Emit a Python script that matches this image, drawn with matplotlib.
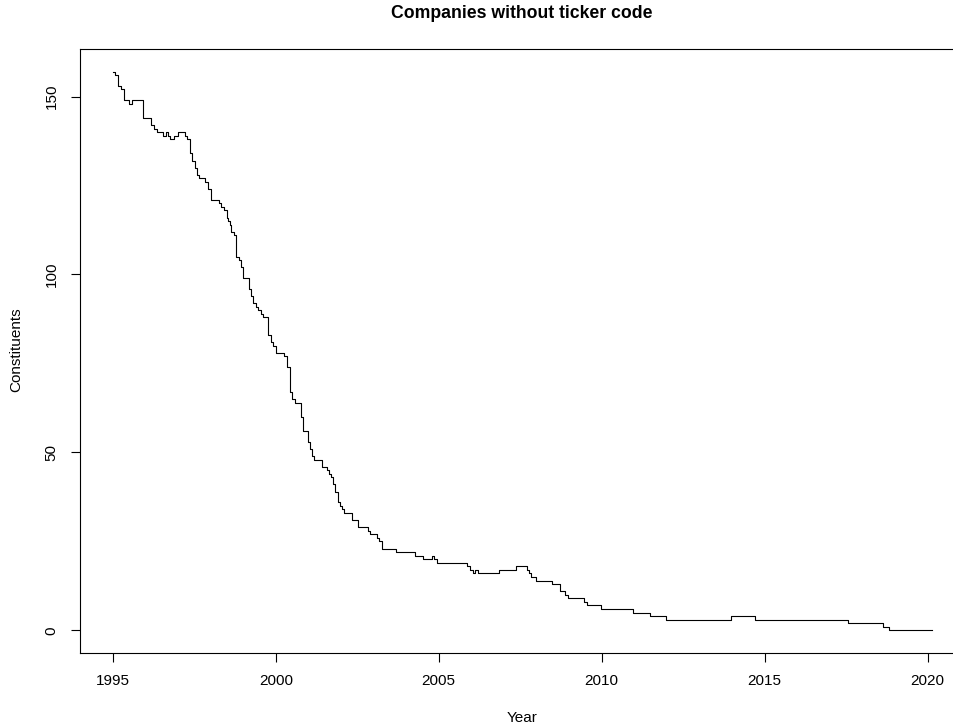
import matplotlib
matplotlib.use('Agg')
import matplotlib.pyplot as plt

# step data (change dates, count after the change)
years = [1995.00, 1995.07, 1995.17, 1995.26, 1995.34, 1995.51, 1995.59, 1995.92,
         1996.18, 1996.26, 1996.36, 1996.54, 1996.62, 1996.69, 1996.77, 1996.88,
         1997.00, 1997.22, 1997.29, 1997.36, 1997.43, 1997.51, 1997.59, 1997.66,
         1997.84, 1997.92, 1998.02, 1998.25, 1998.33, 1998.41, 1998.49, 1998.52,
         1998.59, 1998.64, 1998.72, 1998.79, 1998.86, 1998.93, 1999.00, 1999.17,
         1999.23, 1999.30, 1999.38, 1999.46, 1999.54, 1999.61, 1999.77, 1999.85,
         1999.92, 2000.02, 2000.26, 2000.36, 2000.43, 2000.50, 2000.59, 2000.77,
         2000.84, 2000.98, 2001.05, 2001.10, 2001.18, 2001.43, 2001.56, 2001.63,
         2001.71, 2001.77, 2001.82, 2001.90, 2001.97, 2002.02, 2002.10, 2002.35,
         2002.53, 2002.84, 2002.89, 2003.10, 2003.17, 2003.25, 2003.68, 2004.28,
         2004.53, 2004.79, 2004.87, 2004.94, 2005.86, 2005.97, 2006.04, 2006.12,
         2006.20, 2006.84, 2007.37, 2007.71, 2007.76, 2007.84, 2007.97, 2008.46,
         2008.71, 2008.87, 2008.97, 2009.45, 2009.55, 2009.97, 2010.96, 2011.47,
         2011.98, 2013.96, 2014.71, 2017.55, 2018.63, 2018.81, 2020.14]
counts = [157, 156, 153, 152, 149, 148, 149, 144,
          142, 141, 140, 139, 140, 139, 138, 139,
          140, 139, 138, 134, 132, 130, 128, 127,
          126, 124, 121, 120, 119, 118, 116, 115,
          114, 112, 111, 105, 104, 102, 99, 96,
          94, 92, 91, 90, 89, 88, 83, 81,
          80, 78, 77, 74, 67, 65, 64, 60,
          56, 53, 51, 49, 48, 46, 45, 44,
          43, 41, 39, 36, 35, 34, 33, 31,
          29, 28, 27, 26, 25, 23, 22, 21,
          20, 21, 20, 19, 18, 17, 16, 17,
          16, 17, 18, 17, 16, 15, 14, 13,
          11, 10, 9, 8, 7, 6, 5, 4,
          3, 4, 3, 2, 1, 0, 0]

xticks = [1995, 2000, 2005, 2010, 2015, 2020]
yticks = [0, 50, 100, 150]

plt.rcParams['font.family'] = ['Liberation Sans', 'DejaVu Sans']

fig = plt.figure(figsize=(9.54, 7.27), dpi=100)
ax = fig.add_axes([80/954, 1 - 652.7/727, 885/954, (652.7 - 49.3)/727])

ax.step(years, counts, where='post', color='black', linewidth=0.8)

# R style 4% padding
xr = years[-1] - years[0]
ax.set_xlim(years[0] - 0.04*xr, years[-1] + 0.04*xr)
yr = max(counts) - min(counts)
ax.set_ylim(min(counts) - 0.04*yr, max(counts) + 0.04*yr)

ax.set_xticks(xticks)
ax.set_yticks(yticks)
ax.tick_params(length=6.5, width=0.8, labelsize=11, pad=9)
ax.tick_params(axis='y', labelrotation=90)
for lab in ax.get_yticklabels():
    lab.set_verticalalignment('center')
for s in ax.spines.values():
    s.set_linewidth(0.8)
ax.spines['right'].set_visible(False)  # box runs off the picture

fig.text(522/954, 1 - 13/727, 'Companies without ticker code', ha='center', va='center',
         fontsize=12.7, fontweight='bold')
fig.text(522/954, 1 - 718/727, 'Year', ha='center', va='center', fontsize=11)
fig.text(16/954, 1 - 350/727, 'Constituents', ha='center', va='center', fontsize=11,
         rotation=90)

fig.savefig('out.png', dpi=100)
